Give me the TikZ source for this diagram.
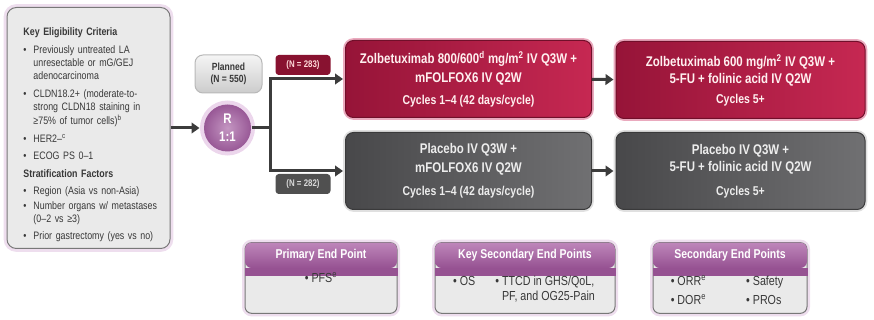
\documentclass[tikz,border=0pt]{standalone}
\usepackage{fontspec}
\setmainfont[FakeStretch=0.82]{Liberation Sans}
\usetikzlibrary{arrows.meta}

\definecolor{zolbRed}{RGB}{150,20,56}
\definecolor{zolbRedLight}{RGB}{198,40,82}
\definecolor{redHalo}{RGB}{234,170,190}
\definecolor{placGrey}{RGB}{72,72,74}
\definecolor{placGreyLight}{RGB}{112,112,114}
\definecolor{greyHalo}{RGB}{224,224,224}
\definecolor{critFill}{RGB}{234,234,234}
\definecolor{critHalo}{RGB}{238,222,238}
\definecolor{critEdge}{RGB}{120,120,120}
\definecolor{endPurple}{RGB}{150,82,146}
\definecolor{endPurpleLight}{RGB}{190,134,186}
\definecolor{randPurple}{RGB}{152,88,150}
\definecolor{randPurpleLight}{RGB}{196,150,194}
\definecolor{randHalo}{RGB}{236,214,236}
\definecolor{nRed}{RGB}{136,18,48}
\definecolor{nGrey}{RGB}{80,80,80}
\definecolor{arrowGrey}{RGB}{60,60,60}
\definecolor{txtGrey}{RGB}{56,56,56}

% bullet item, continuation lines under the text
\newcommand{\critem}[2][3pt]{\par\vspace{#1}\noindent\makebox[7.5pt][l]{\textbullet}\begin{tabular}[t]{@{}l@{}}#2\end{tabular}\par}

\tikzset{every picture/.style={line width=0.75pt},
  armbox/.style={rounded corners=6pt, minimum height=57.75pt, align=center,
    font=\fontsize{10.5}{14.25}\selectfont\bfseries},
  armred/.style={armbox, preaction={draw=redHalo, line width=3.5pt},
    left color=zolbRed, right color=zolbRedLight, draw=zolbRed!75!black, text=white!94!red},
  armgrey/.style={armbox, preaction={draw=greyHalo, line width=3.5pt},
    left color=placGrey, right color=placGreyLight, draw=placGrey!80!black, text=white!93!black},
  critbox/.style={rounded corners=7pt, preaction={draw=critHalo, line width=5pt},
    fill=critFill, draw=critEdge, minimum width=122.25pt, minimum height=180.75pt},
  crittext/.style={text width=118pt, align=left, inner sep=0pt, text=txtGrey,
    font=\fontsize{8.1}{9.75}\selectfont},
  plannedbox/.style={rounded corners=6pt, top color=white!96!black, bottom color=white!80!black,
    draw=white!72!black, minimum width=50.25pt, minimum height=28.5pt, align=center,
    text=txtGrey, font=\fontsize{7.8}{9}\selectfont\bfseries},
  randcircle/.style={circle, preaction={draw=randHalo, line width=6pt},
    inner color=randPurpleLight, outer color=randPurple, minimum size=35.25pt, inner sep=0pt,
    align=center, text=white, font=\fontsize{10.5}{13.5}\selectfont\bfseries},
  nbox/.style={rounded corners=2.5pt, minimum width=41.25pt, minimum height=15pt, inner sep=0pt,
    font=\fontsize{7.2}{9}\selectfont\bfseries},
  nred/.style={nbox, fill=nRed, text=white!85!red},
  ngrey/.style={nbox, fill=nGrey, text=white!85!black},
  endbox/.style={rounded corners=5pt, preaction={draw=critHalo, line width=4.5pt},
    fill=critFill, draw=critEdge, minimum height=53pt},
  endhead/.style={rounded corners=5pt, top color=endPurpleLight, bottom color=endPurple,
    minimum height=19pt, anchor=north, text=white, font=\fontsize{9.6}{12}\selectfont\bfseries},
  endtext/.style={text=txtGrey, font=\fontsize{9.8}{13}\selectfont, inner sep=0pt},
  flow/.style={draw=arrowGrey, line width=2.25pt, -{Triangle[length=6pt, width=8pt]}},
  flowline/.style={draw=arrowGrey, line width=2.25pt}
}

\begin{document}
\begin{tikzpicture}[x=0.75pt,y=0.75pt,yscale=-1,xscale=1]
\useasboundingbox (0,0) rectangle (874,320);

%Shape: Eligibility box
\node [critbox] (crit) at (88.5,128) {};
% Text Node
\node [crittext, anchor=north west] (critText) at (23,27) {%
  {\bfseries Key Eligibility Criteria\par}
  \critem[4pt]{Previously untreated LA\\unresectable or mG/GEJ\\adenocarcinoma}
  \critem{CLDN18.2+ (moderate-to-\\strong CLDN18 staining in\\≥75\% of tumor cells)\textsuperscript{b}}
  \critem{HER2–\textsuperscript{c}}
  \critem{ECOG PS 0–1}
  \vspace{4pt}{\bfseries Stratification Factors\par}
  \critem[3pt]{Region (Asia vs non-Asia)}
  \critem[1pt]{Number organs w/ metastases\\(0–2 vs ≥3)}
  \critem[2pt]{Prior gastrectomy (yes vs no)}};

%Shape: Planned box
\node [plannedbox] (planned) at (228.5,74) {Planned\\(N = 550)};
%Shape: Randomisation circle
\node [randcircle] (rand) at (227.5,128) {R\\1:1};
\coordinate (split) at (270,128);

%Shape: Treatment arms
\node [armred, minimum width=184.5pt] (zolbA) at (468.5,79)
  {Zolbetuximab 800/600\textsuperscript{d} mg/m\textsuperscript{2} IV Q3W +\\mFOLFOX6 IV Q2W\\[2pt]{\fontsize{9.6}{14.25}\selectfont Cycles 1–4 (42 days/cycle)}};
\node [armred, minimum width=186.75pt, font=\fontsize{10.5}{12.75}\selectfont\bfseries] (zolbB) at (740.5,80)
  {Zolbetuximab 600 mg/m\textsuperscript{2} IV Q3W +\\5-FU + folinic acid IV Q2W\\[2pt]{\fontsize{9.6}{12.75}\selectfont Cycles 5+}};
\node [armgrey, minimum width=184.5pt] (placA) at (468.5,171)
  {Placebo IV Q3W +\\mFOLFOX6 IV Q2W\\[3pt]{\fontsize{9.6}{14.25}\selectfont Cycles 1–4 (42 days/cycle)}};
\node [armgrey, minimum width=186.75pt, font=\fontsize{10.5}{12.75}\selectfont\bfseries] (placB) at (740.5,171)
  {Placebo IV Q3W +\\5-FU + folinic acid IV Q2W\\[5pt]{\fontsize{9.6}{12.75}\selectfont Cycles 5+}};

% Text Node
\node [nred] (nZolb) at (303,65) {(N = 283)};
% Text Node
\node [ngrey] (nPlac) at (303,184) {(N = 282)};

%Straight Lines
\draw [flow, shorten >=3pt] (crit.east) -- (rand.west);
\draw [flowline] (rand.east) -- (split);
\draw [flow, shorten >=1.5pt] (split) |- (zolbA.west);
\draw [flow, shorten >=1.5pt] (split) |- (placA.west);
\draw [flow, shorten >=1.5pt] (zolbA) -- (zolbB);
\draw [flow, shorten >=1.5pt] (placA) -- (placB);

%Shape: End point boxes
\node [endbox, minimum width=114pt] (prim) at (321,278) {};
\node [endbox, minimum width=135pt] (keySec) at (525,278) {};
\node [endbox, minimum width=115.5pt] (sec) at (730,278) {};

% Text Node
\node [endhead, minimum width=114pt] (primHead) at (prim.north) {Primary End Point};
\fill [endPurple] ([yshift=6pt]primHead.south west) rectangle (primHead.south east);
% Text Node
\node [endhead, minimum width=135pt] (keySecHead) at (keySec.north) {Key Secondary End Points};
\fill [endPurple] ([yshift=6pt]keySecHead.south west) rectangle (keySecHead.south east);
% Text Node
\node [endhead, minimum width=115.5pt] (secHead) at (sec.north) {Secondary End Points};
\fill [endPurple] ([yshift=6pt]secHead.south west) rectangle (secHead.south east);

% Text Node
\node [endtext] (primBody) at (321,278) {\textbullet\ PFS\textsuperscript{e}};
% Text Node
\node [endtext, anchor=north] (keySecBody) at (524,273)
  {\begin{tabular}{@{}l@{\hspace{15pt}}l@{}}\textbullet\ OS & \textbullet\ TTCD in GHS/QoL,\\[-2pt]
   & \phantom{\textbullet\ }PF, and OG25-Pain\end{tabular}};
% Text Node
\node [endtext, anchor=north] (secBody) at (727,273)
  {\begin{tabular}{@{}l@{\hspace{30pt}}l@{}}\textbullet\ ORR\textsuperscript{e} & \textbullet\ Safety\\[1pt]
   \textbullet\ DOR\textsuperscript{e} & \textbullet\ PROs\end{tabular}};

\end{tikzpicture}
\end{document}
